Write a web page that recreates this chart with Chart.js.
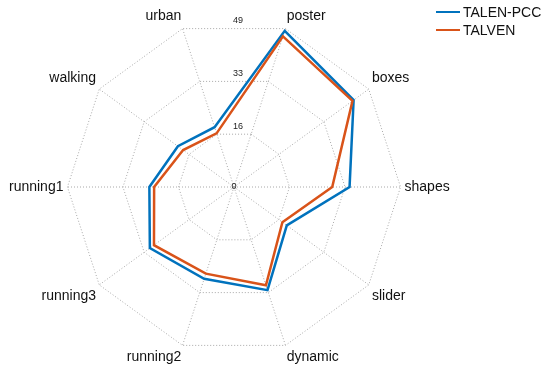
<!DOCTYPE html>
<html>
<head>
<meta charset="utf-8">
<script src="https://cdn.jsdelivr.net/npm/chart.js@4"></script>
<style>
html, body { margin: 0; padding: 0; background: #fff; }
#wrap { width: 550px; height: 367px; }
</style>
</head>
<body>
<div id="wrap"><canvas id="radar" width="550" height="367"></canvas></div>
<script>
// axes go clockwise, starting with "poster" just right of the top
var labels = ['poster', 'boxes', 'shapes', 'slider', 'dynamic', 'running2', 'running3', 'running1', 'walking', 'urban'];
var talenPcc = [48.3, 43.5, 34.0, 19.2, 31.9, 28.4, 30.6, 24.9, 20.4, 18.5];
var talven = [46.6, 43.1, 28.9, 17.6, 30.4, 26.8, 29.1, 23.5, 18.5, 16.6];
var tickValues = [0, 49 / 3, 98 / 3, 49];
var tickLabels = ['0', '16', '33', '49'];

var FONT = "'Liberation Sans', Arial, Helvetica, sans-serif";

// tick numbers stay upright on the vertical line through the centre
var tickText = {
    id: 'tickText',
    afterDatasetsDraw: function(c) {
        var s = c.scales.r;
        var ctx = c.ctx;
        ctx.save();
        ctx.font = '9px ' + FONT;
        ctx.fillStyle = '#222';
        ctx.textAlign = 'center';
        ctx.textBaseline = 'middle';
        tickValues.forEach(function(v, i) {
            var d = s.getDistanceFromCenterForValue(v);
            var y = s.yCenter - d * Math.cos(Math.PI / 10);
            if (i === 0) {
                ctx.fillText(tickLabels[i], s.xCenter, s.yCenter);
            } else {
                ctx.fillText(tickLabels[i], s.xCenter + 4, y - 8);
            }
        });
        ctx.restore();
    }
};

// matlab style legend, top right
var sideLegend = {
    id: 'sideLegend',
    afterDraw: function(c) {
        var ctx = c.ctx;
        ctx.save();
        ctx.font = '14px ' + FONT;
        ctx.textBaseline = 'middle';
        c.data.datasets.forEach(function(ds, i) {
            var y = 12 + i * 18;
            ctx.strokeStyle = ds.borderColor;
            ctx.lineWidth = 2;
            ctx.beginPath();
            ctx.moveTo(436, y);
            ctx.lineTo(460, y);
            ctx.stroke();
            ctx.fillStyle = '#111';
            ctx.fillText(ds.label, 463, y + 1);
        });
        ctx.restore();
    }
};

new Chart(document.getElementById('radar'), {
    type: 'radar',
    data: {
        labels: labels,
        datasets: [
            {
                label: 'TALEN-PCC',
                data: talenPcc,
                borderColor: '#0072BD',
                borderWidth: 2.5,
                fill: false,
                pointRadius: 0,
                order: 1
            },
            {
                label: 'TALVEN',
                data: talven,
                borderColor: '#D95319',
                borderWidth: 2.5,
                fill: false,
                pointRadius: 0,
                order: 0
            }
        ]
    },
    options: {
        responsive: false,
        animation: false,
        layout: { padding: { left: 2, right: 92, top: 9, bottom: 0 } },
        elements: { line: { tension: 0 } },
        plugins: {
            legend: { display: false },
            tooltip: { enabled: false }
        },
        scales: {
            r: {
                min: 0,
                max: 49,
                startAngle: 18,
                afterBuildTicks: function(s) {
                    s.ticks = tickValues.map(function(v) { return { value: v }; });
                },
                ticks: { display: false },
                grid: { color: '#a8a8a8', lineWidth: 1 },
                border: { dash: [1, 2] },
                angleLines: { color: '#a8a8a8', lineWidth: 1, borderDash: [1, 2] },
                pointLabels: {
                    color: '#111',
                    padding: 4,
                    font: { family: FONT, size: 14 }
                }
            }
        }
    },
    plugins: [tickText, sideLegend]
});
</script>
</body>
</html>
